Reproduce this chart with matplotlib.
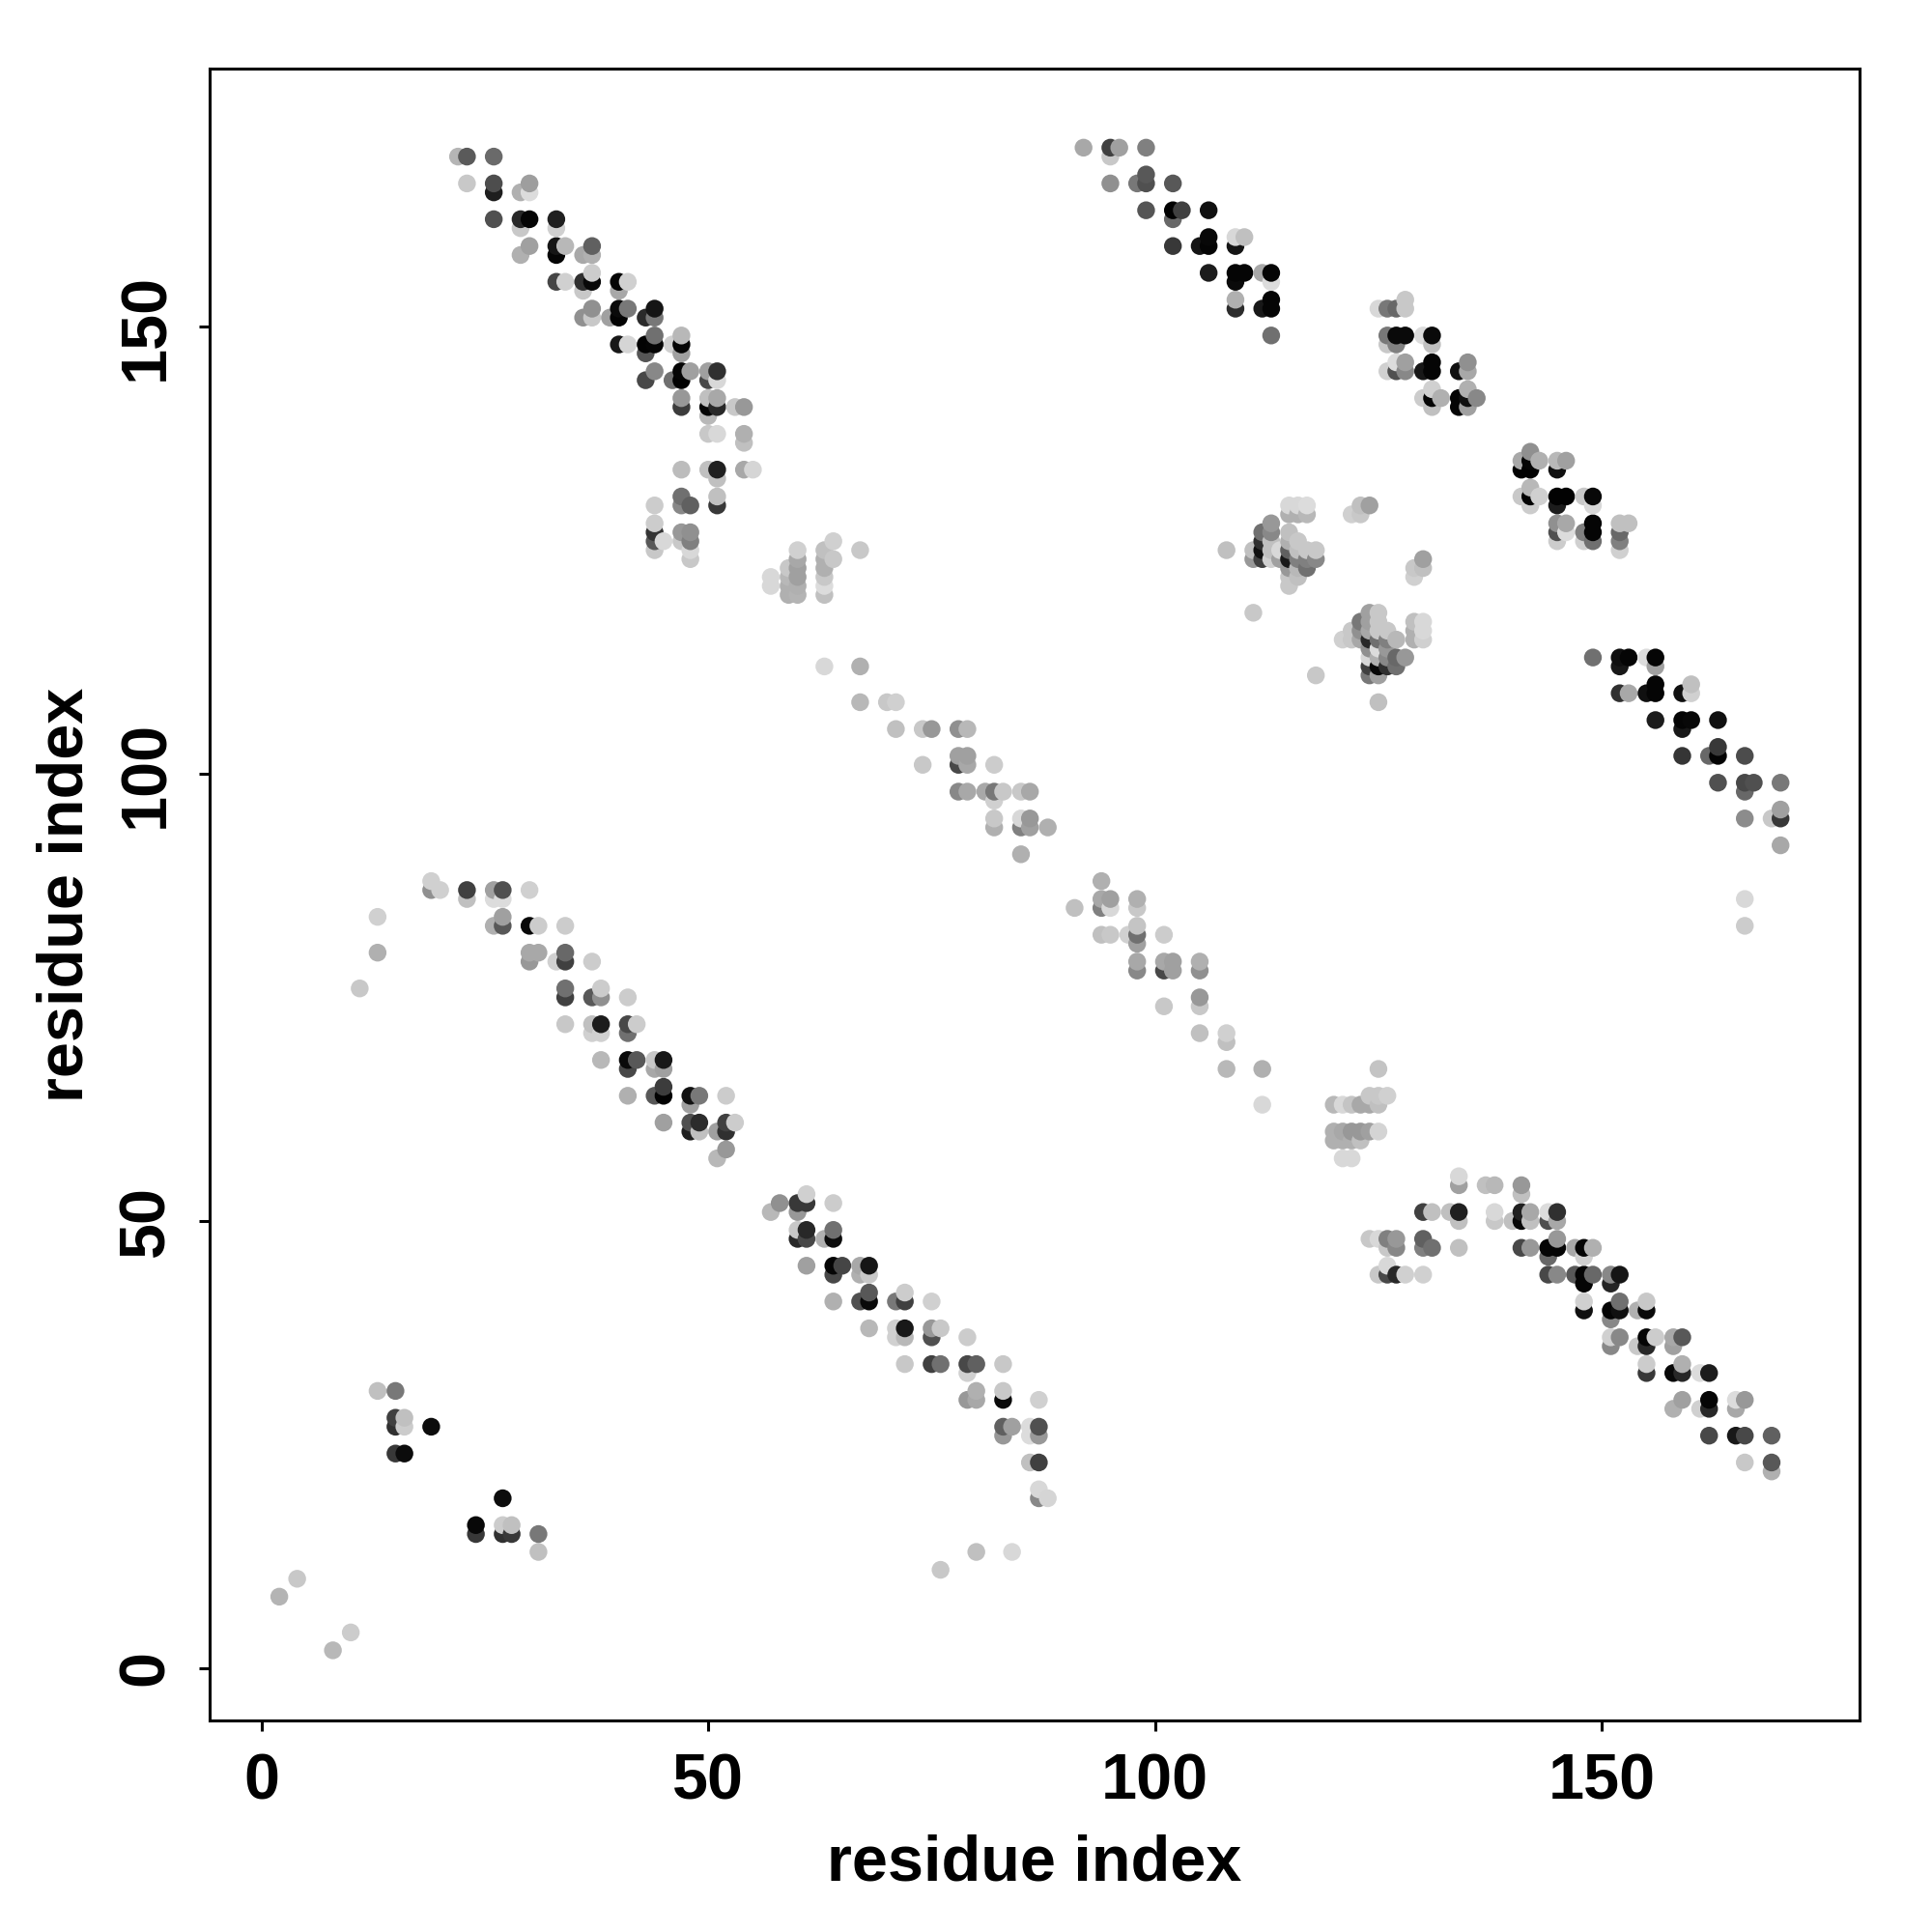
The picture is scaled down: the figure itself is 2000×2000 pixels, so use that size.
import matplotlib
matplotlib.use("Agg")
import matplotlib.pyplot as plt
import numpy as np

res_x = [
 22,23,26, 23,26,30, 26,29,30, 26,29,30,33, 29,33, 30,33,34,37, 29,33,36,37, 37,
 33,34,36,37,40,41, 36,40, 37,40,41,44, 36,37,39,40,43,44, 44,47, 40,41,43,44,46,47,
 43,47, 44,47,48,50,51, 43,46,47,50,51, 47,50,51, 47,50,51,53,54, 50, 50,51,54, 54,
 47,50,51,54,55, 51, 47,51, 44,47,48,51, 44, 44,47,48, 44,45,47,48, 44,48, 48,
 92,95,96,99, 95, 99, 95,98,99,102, 99,102,103,106, 102, 106,109,110, 102,105,106,109,
 106,109,110,112,113, 109,113, 109,113, 109,112,113, 113,
 128, 125,126,127,128, 126,127,128,130,131, 126,127,131, 127,128,131, 126,127,128,130,131,134,135,
 135, 131,135, 130,131,132,134,135,136, 131,134,135,
 142, 141,142,143,145,146, 141,142,145, 142, 141,142,143,145,146,148,149, 142,145,149,
 145,146,149,152,153, 145,146,148,149,152, 145,148,149,152, 152,
 115,116,117, 115,116,117, 113, 112,113,115, 112,113,115,116, 108,111,112,113,114,115,116,117,118,
 111,112,113,114,115,116,117,118, 115,116,117, 115,116, 115, 111,
 123,124, 122,123, 130, 129,130, 129,
 124,125, 123,124,125,129,130, 122,123,124,125,126,129,130, 121,122,123,124,125,126,127,129,130,
 124,125,126, 124,125,126,127,128, 124,125,126,127, 124,125, 118, 125,
 149,152,153,155,156, 152,156, 156,160, 152,153,155,156,159,160, 156,159,160,163, 159, 163,
 159,162,163,166, 163,166,167,170, 166, 170, 166,169,170, 170, 166, 166,
 60,63,67, 64, 60,63,64, 59,60,63, 57,59,60,63, 57,59,60,63, 59,60,63,
 63,67, 67,70,71, 71,74,75,78,79, 78,79, 74,78,79,82, 78,79,81,82,83,85,86, 82, 82,85,86, 82,85,86,88, 85,
 94, 94,95,98, 91,94,95,98, 98, 94,95,97,98,101, 98, 98,101,102,105, 98,101,102,105,
 105, 101,105, 105,108, 108, 108,112,125, 124,125,126, 112,120,121,122,123,124,125,
 120,121,122,123,124,125, 120,121,122,123, 121,122,
 19, 19,20,23,26,27,30, 23,26,27, 27, 26,27,30,31,34, 30,31,34, 30,33,34,37, 34,38,
 34,37,38,41, 34,37,38,41,42, 37,38,41, 38,41,42,44,45, 41,44,45, 45, 41,44,45,48,49,52,
 48, 45,48,49,52,53, 48,49,51,52, 52, 51,
 61, 58,60,61,64, 57,60, 60,61,64, 60,61,63,64, 61,64,65,67,68, 64,67,68, 68,72,
 64,67,68,71,72,75, 68,71,72,75,76, 71,72,75,79, 72,75,76,79,80,83, 79, 80,83,
 79,80,83,87, 83,84,86,87, 83,86,87, 86,87, 87, 87,88, 80,84, 76,
 134, 134,137,138,141, 141, 130,131,133,134,138,141,142,144,145, 134,138,140,141,142,144,145,
 124,125,126,127,130,145, 126,127,130,131,134,141,142,144,145,147,148,149, 144,148, 126,
 125,126,127,128,130,144,145,147,148,149,151,152, 148,151, 148,152,155, 148,151,152,154,155, 151,
 151,152,155,156,158,159, 151,154,155,158, 155,159, 155,158,159,161,162,
 159,162,165,166, 158,161,162,165, 162,165,166,169, 166,169, 169,
 13, 13, 11,
 13,15, 15,16, 15,16,19, 15,16, 27, 24,27,28, 24,27,28,31, 31, 4, 2, 10, 8,
]
res_y = [
 169,169,169, 166,166,166, 165,165,165, 162,162,162,162, 161,161, 159,159,159,159, 158,158,158,158, 156,
 155,155,155,155,155,155, 154,154, 152,152,152,152, 151,151,151,151,151,151, 149,149, 148,148,148,148,148,148,
 147,147, 145,145,145,145,145, 144,144,144,144,144, 142,142,142, 141,141,141,141,141, 140, 138,138,138, 137,
 134,134,134,134,134, 133, 131,131, 130,130,130,130, 128, 127,127,127, 126,126,126,126, 125,125, 124,
 170,170,170,170, 169, 167, 166,166,166,166, 163,163,163,163, 162, 160,160,160, 159,159,159,159,
 156,156,156,156,156, 155,155, 153,153, 152,152,152, 149,
 153, 152,152,152,152, 149,149,149,149,149, 148,148,148, 146,146,146, 145,145,145,145,145,145,145,
 146, 143,143, 142,142,142,142,142,142, 141,141,141,
 136, 135,135,135,135,135, 134,134,134, 132, 131,131,131,131,131,131,131, 130,130,130,
 128,128,128,128,128, 127,127,127,127,127, 126,126,126,126, 125,
 130,130,130, 129,129,129, 128, 127,127,127, 126,126,126,126, 125,125,125,125,125,125,125,125,125,
 124,124,124,124,124,124,124,124, 123,123,123, 122,122, 121, 118,
 130,130, 129,129, 124, 123,123, 122,
 118,118, 117,117,117,117,117, 116,116,116,116,116,116,116, 115,115,115,115,115,115,115,115,115,
 114,114,114, 113,113,113,113,113, 112,112,112,112, 111,111, 111, 108,
 113,113,113,113,113, 112,112, 110,110, 109,109,109,109,109,109, 106,106,106,106, 105, 103,
 102,102,102,102, 99,99,99,99, 98, 96, 95,95,95, 92, 86, 83,
 125,125,125, 126, 124,124,124, 123,123,123, 122,122,122,122, 121,121,121,121, 120,120,120,
 112,112, 108,108,108, 105,105,105,105,105, 102,102, 101,101,101,101, 98,98,98,98,98,98,98, 97, 95,95,95, 94,94,94,94, 91,
 88, 86,86,86, 85,85,85,85, 83, 82,82,82,82,82, 81, 79,79,79,79, 78,78,78,78,
 75, 74,74, 71,71, 70, 67,67,67, 64,64,64, 63,63,63,63,63,63,63,
 60,60,60,60,60,60, 59,59,59,59, 57,57,
 88, 87,87,87,87,87,87, 86,86,86, 84, 83,83,83,83,83, 80,80,80, 79,79,79,79, 76,76,
 75,75,75,75, 72,72,72,72,72, 71,71,71, 68,68,68,68,68, 67,67,67, 65, 64,64,64,64,64,64,
 63, 61,61,61,61,61, 60,60,60,60, 58, 57,
 53, 52,52,52,52, 51,51, 49,49,49, 48,48,48,48, 45,45,45,45,45, 44,44,44, 42,42,
 41,41,41,41,41,41, 38,38,38,38,38, 37,37,37,37, 34,34,34,34,34,34, 33, 31,31,
 30,30,30,30, 27,27,27,27, 26,26,26, 23,23, 20, 19,19, 13,13, 11,
 55, 54,54,54,54, 53, 51,51,51,51,51,51,51,51,51, 50,50,50,50,50,50,50,
 48,48,48,48,48,48, 47,47,47,47,47,47,47,47,47,47,47,47, 46,46, 45,
 44,44,44,44,44,44,44,44,44,44,44,44, 43,43, 41,41,41, 40,40,40,40,40, 39,
 37,37,37,37,37,37, 36,36,36,36, 34,34, 33,33,33,33,33,
 30,30,30,30, 29,29,29,29, 26,26,26,26, 23,23, 22,
 84, 80, 76,
 31,31, 28,28, 27,27,27, 24,24, 19, 16,16,16, 15,15,15,15, 13, 10, 8, 4, 2,
]
gray = [
 0xb5,0x5a,0x6a, 0xc8,0x4d,0x9e, 0x1e,0xb0,0xdc, 0x50,0x28,0x05,0x20, 0xc8,0xd0, 0xa0,0x15,0xb8,0x60, 0xb0,0x05,0xa8,0xb0, 0xcc,
 0x45,0xd0,0x30,0x08,0x05,0xd0, 0xc8,0xa8, 0x90,0x0a,0x78,0x15, 0x90,0xc8,0xa0,0x03,0x2a,0x78, 0x70,0xb8, 0x18,0xd5,0x03,0x05,0xd0,0x05,
 0x55,0xa0, 0x88,0x05,0xa0,0xa0,0x30, 0x48,0x70,0x02,0x48,0xd8, 0x98,0xc0,0xa8, 0x3c,0x05,0x28,0xc8,0x98, 0xb8, 0xc8,0xd8,0xb0, 0xc0,
 0xbc,0xc0,0x20,0xa8,0xd5, 0xc0, 0x70,0xc0, 0xcc,0x88,0x60,0x38, 0xcc, 0x35,0x98,0x90, 0x58,0xd8,0xc8,0x80, 0xc8,0xd8, 0xc8,
 0xa8,0x40,0xa0,0x80, 0xc8, 0x58, 0x90,0x78,0x50,0x58, 0x55,0x02,0x40,0x10, 0x68, 0x08,0xd8,0xc0, 0x38,0x15,0x05,0x15,
 0x1c,0x05,0x05,0xa8,0x05, 0x0a,0xdc, 0xb0,0x05, 0x2c,0x18,0x05, 0x70,
 0xc8, 0xd8,0x78,0x68,0xc8, 0x78,0x0a,0x0a,0xdc,0x0a, 0xc8,0x80,0xc0, 0xdc,0xa0,0x05, 0xd0,0x50,0x88,0x18,0x05,0x10,0xa8,
 0x90, 0xd0,0xb0, 0xcc,0x05,0xb0,0x05,0x10,0x88, 0xc0,0x05,0xa0,
 0x90, 0xa8,0x05,0xb0,0xb8,0xa0, 0x02,0x02,0x10, 0xb8, 0xc8,0x02,0xd0,0x02,0x02,0xc8,0x08, 0xcc,0x1c,0xd8,
 0x90,0xa8,0x05,0xc0,0xc0, 0x50,0xdc,0x80,0x05,0x68, 0xcc,0xd0,0x70,0x80, 0xd0,
 0xd8,0xd8,0xdc, 0xb0,0xb0,0xb8, 0x98, 0x70,0x88,0xc0, 0x30,0xc0,0xb0,0xc8, 0xc0,0xc0,0x10,0xc0,0xd8,0x60,0xc0,0xc8,0xc8,
 0x98,0x40,0xd0,0xa0,0x18,0x80,0x80,0x88, 0x98,0xb8,0x70, 0xc8,0xc0, 0xc8, 0xc8,
 0xc0,0xa0, 0xd0,0xc8, 0xa0, 0xc8,0xc0, 0xd0,
 0xa0,0xc8, 0x78,0xa0,0xc8,0xc0,0xd8, 0xc8,0x90,0xa8,0xc8,0xc8,0xb0,0xd8, 0xd0,0xc8,0xa8,0x28,0x70,0x80,0xb8,0xb0,0xd0,
 0x90,0xdc,0x98, 0xd8,0xb0,0x88,0x68,0x98, 0x40,0x08,0x30,0x70, 0x78,0xa0, 0xc8, 0xc0,
 0x70,0x10,0x05,0xdc,0x05, 0x18,0xa0, 0x05,0xc0, 0x30,0xa8,0x10,0x05,0x10,0xd0, 0x1c,0x05,0x08,0x10, 0x18, 0x38,
 0x35,0x68,0x03,0x4c, 0x50,0x48,0x50,0x78, 0x68, 0xa0, 0x8c,0xc8,0x38, 0xa8, 0xd8, 0xcc,
 0xd0,0xc0,0xc8, 0xd0, 0xa8,0xb0,0xc8, 0xc8,0xa0,0xb0, 0xd8,0xb8,0xa0,0xc8, 0xd8,0xb0,0xb0,0xdc, 0xb0,0xb4,0xc0,
 0xd8,0xb0, 0xb8,0xc8,0xd0, 0xc0,0xc8,0x98,0x90,0xb8, 0xa0,0xa0, 0xc8,0x48,0xa8,0xcc, 0x88,0xa8,0xa8,0x78,0xc8,0xc8,0xa8, 0xd0, 0xc8,0xd8,0x98, 0xb0,0x80,0xa0,0xb0, 0xb0,
 0xb0, 0xa8,0xa0,0xb0, 0xc0,0x80,0xd8,0xc8, 0xc4, 0xc0,0xc8,0xd0,0x70,0xcc, 0xa0, 0xa8,0xa8,0xa0,0xb0, 0x88,0x48,0xa0,0x90,
 0x98, 0xc8,0xc8, 0xc0,0xd0, 0xc0, 0xb8,0xb0,0xc4, 0xc8,0xc8,0xd0, 0xd8,0xb8,0xd8,0xc4,0xa8,0xa8,0xc0,
 0xb0,0xa8,0x98,0x98,0xa0,0xd4, 0xb0,0xb0,0xb0,0xc0, 0xd8,0xd8,
 0xd0, 0x90,0xd0,0x40,0xa0,0x50,0xd0, 0xc0,0xdc,0xdc, 0xa0, 0xb0,0x58,0x08,0xcc,0xcc, 0xa8,0xa8,0x68, 0x98,0xd0,0x40,0xcc, 0x70,0xcc,
 0x40,0x58,0x90,0xcc, 0xc8,0xc0,0x1c,0x48,0xcc, 0xd0,0xd0,0x70, 0xb8,0x0a,0x58,0xc8,0x18, 0x48,0xa8,0xa0, 0x3c, 0xb0,0x58,0x02,0x12,0x78,0xcc,
 0xa0, 0xa0,0x50,0x2c,0x40,0xcc, 0x20,0xc0,0xa0,0x30, 0x98, 0xb8,
 0xd0, 0x90,0x38,0x38,0xcc, 0xb8,0x98, 0xc8,0x28,0x70, 0x28,0x48,0xb0,0x0c, 0xa0,0x05,0x45,0xa8,0x15, 0x48,0xb0,0xc8, 0x58,0xcc,
 0xb0,0x50,0x0a,0x78,0x40,0xd0, 0xb8,0xd0,0x18,0x98,0xc8, 0xd0,0xb8,0x50,0xcc, 0xc8,0x40,0x70,0x48,0x60,0xc8, 0xd0, 0xb0,0xc8,
 0x98,0xa8,0x0a,0xd0, 0x60,0xa0,0xdc,0x50, 0x98,0xdc,0x98, 0xc0,0x40, 0xd8, 0x88,0xd5, 0xc0,0xd8, 0xc8,
 0xd8, 0xa0,0xc0,0xb8,0x98, 0xc0, 0x40,0xc0,0xc0,0x20,0xd8,0x20,0xa8,0xdc,0x30, 0xc0,0xc8,0xc0,0x08,0xc0,0x50,0xa8,
 0xc8,0xd8,0x80,0x98,0x60,0x98, 0xc8,0x88,0x80,0x70,0xc0,0x48,0x98,0x05,0x05,0xa8,0x05,0xb0, 0x68,0xd0, 0xd8,
 0xc8,0x48,0x28,0xd0,0xd0,0x48,0x88,0x58,0x05,0x68,0x88,0x15, 0x05,0x25, 0xd0,0x70,0xc8, 0x10,0x05,0x10,0xb0,0x0a, 0x88,
 0xd0,0x88,0x05,0xcc,0xa8,0x58, 0x88,0xc8,0x28,0xa0, 0xcc,0xb0, 0x38,0x08,0x28,0xdc,0x1c,
 0xa0,0x05,0xdc,0x98, 0xb0,0xd0,0x28,0xa8, 0x48,0x18,0x48,0x60, 0xc8,0x58, 0xb0,
 0xd0, 0xb0, 0xc8,
 0xc0,0x78, 0x40,0xc0, 0x30,0xcc,0x0c, 0x38,0x0c, 0x0c, 0x08,0xcc,0xc0, 0x38,0x30,0x38,0x78, 0xc0, 0xc8, 0xb4, 0xcc, 0xb8,
]
x_ticks = [0, 50, 100, 150]
y_ticks = [0, 50, 100, 150]
axis_label = "residue index"
assert len(res_x) == len(res_y) == len(gray), (len(res_x), len(res_y), len(gray))

plt.rcParams["font.family"] = ["Liberation Sans", "DejaVu Sans"]
plt.rcParams["font.weight"] = "bold"

fig = plt.figure(figsize=(10, 10), dpi=200, facecolor="white")
L, R, T, B = 216.6, 1925, 71, 1781
ax = fig.add_axes([L/2000, 1-B/2000, (R-L)/2000, (B-T)/2000])

x = np.array(res_x); y = np.array(res_y); g = np.array(gray)/255.0
order = np.lexsort((y, x))
ax.scatter(x[order], y[order], s=44, c=np.c_[g[order], g[order], g[order]], linewidths=0, zorder=3)

ax.set_xlim(-5.84, 178.84)
ax.set_ylim(-5.84, 178.84)
ax.set_xticks(x_ticks); ax.set_yticks(y_ticks)
for s in ax.spines.values():
    s.set_linewidth(1.1)
ax.tick_params(axis="both", length=4.0, width=1.1, labelsize=24)
ax.tick_params(axis="x", pad=8)
ax.tick_params(axis="y", pad=8)
for t in ax.get_yticklabels():
    t.set_rotation(90); t.set_va("center")
ax.set_xlabel(axis_label, fontsize=24, fontweight="bold", labelpad=8)
ax.set_ylabel(axis_label, fontsize=24, fontweight="bold", labelpad=8)
fig.savefig("out.png", dpi=200, facecolor="white")
